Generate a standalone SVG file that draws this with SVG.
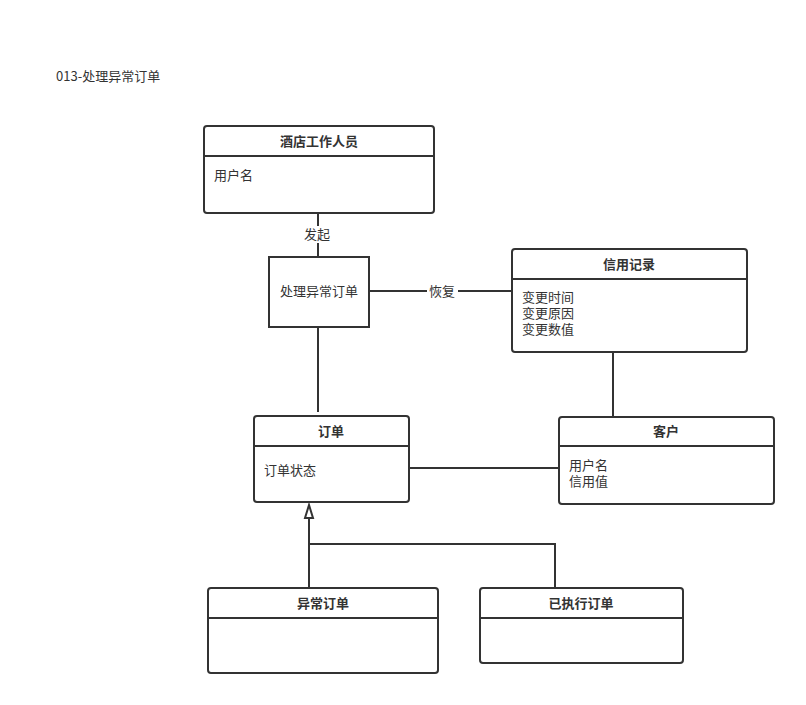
<svg xmlns="http://www.w3.org/2000/svg" width="806" height="705" viewBox="0 0 806 705">
<style>
.box{fill:#fff;stroke:#333;stroke-width:2}
.sep{stroke:#333;stroke-width:2}
.ln{stroke:#333;stroke-width:2;fill:none}
text{font-family:"Noto Sans CJK SC","Liberation Sans",sans-serif;font-size:13px;fill:#333}
.h{font-weight:bold;text-anchor:middle}
.c{text-anchor:middle}
.lbl{fill:#fff;stroke:none}
</style>
<rect width="806" height="705" fill="#fff"/>
<text x="56" y="81">013-处理异常订单</text>
<g id="connectors">
<line class="ln" x1="318" y1="213" x2="318" y2="257"/>
<rect class="lbl" x="302" y="226" width="32" height="17"/>
<text class="c" x="317" y="239">发起</text>
<line class="ln" x1="369" y1="291" x2="512" y2="291"/>
<rect class="lbl" x="427" y="283" width="31" height="17"/>
<text class="c" x="442" y="296">恢复</text>
<line class="ln" x1="318" y1="327" x2="318" y2="412"/>
<line class="ln" x1="613" y1="352" x2="613" y2="417"/>
<line class="ln" x1="409" y1="468" x2="559" y2="468"/>
<polyline class="ln" points="309,518 309,588"/>
<polyline class="ln" points="309,544 555,544 555,588"/>
<polygon points="309,505 305,518 313,518" fill="#fff" stroke="#333" stroke-width="2"/>
</g>
<g id="staff">
<rect class="box" x="204" y="126" width="230" height="87" rx="3"/>
<line class="sep" x1="204" y1="156" x2="434" y2="156"/>
<text class="h" x="319" y="146">酒店工作人员</text>
<text x="214" y="180">用户名</text>
</g>
<g id="process">
<rect class="box" x="269" y="257" width="100" height="70"/>
<text class="c" x="319" y="296">处理异常订单</text>
</g>
<g id="credit">
<rect class="box" x="512" y="249" width="235" height="103" rx="3"/>
<line class="sep" x1="512" y1="279" x2="747" y2="279"/>
<text class="h" x="629" y="269">信用记录</text>
<text x="522" y="302">变更时间<tspan x="522" dy="16">变更原因</tspan><tspan x="522" dy="16">变更数值</tspan></text>
</g>
<g id="order">
<rect class="box" x="254" y="416" width="155" height="86" rx="3"/>
<line class="sep" x1="254" y1="446" x2="409" y2="446"/>
<text class="h" x="331" y="436">订单</text>
<text x="264" y="475">订单状态</text>
</g>
<g id="customer">
<rect class="box" x="559" y="417" width="215" height="87" rx="3"/>
<line class="sep" x1="559" y1="446" x2="774" y2="446"/>
<text class="h" x="666" y="436">客户</text>
<text x="569" y="470">用户名<tspan x="569" dy="16">信用值</tspan></text>
</g>
<g id="abnormal">
<rect class="box" x="208" y="588" width="230" height="85" rx="3"/>
<line class="sep" x1="208" y1="618" x2="438" y2="618"/>
<text class="h" x="323" y="608">异常订单</text>
</g>
<g id="executed">
<rect class="box" x="480" y="588" width="203" height="75" rx="3"/>
<line class="sep" x1="480" y1="618" x2="683" y2="618"/>
<text class="h" x="581" y="608">已执行订单</text>
</g>
</svg>
